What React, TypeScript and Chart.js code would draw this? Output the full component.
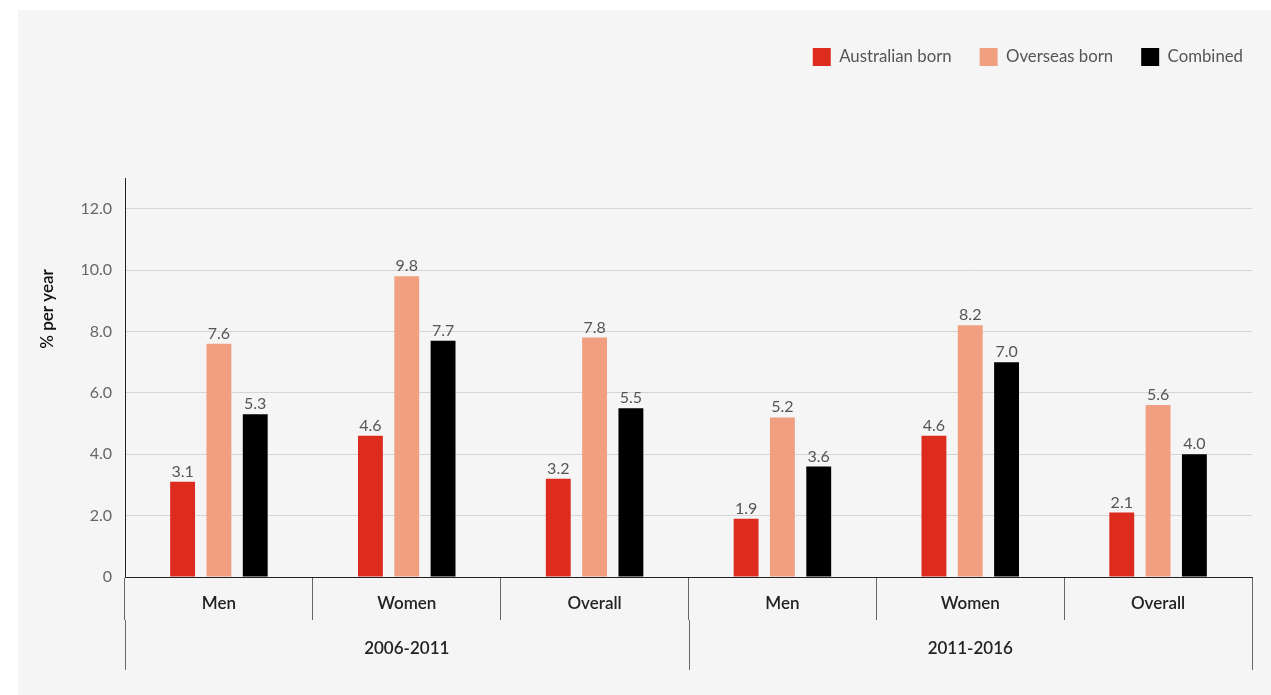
import React, { useEffect, useRef } from 'react';
import { Chart, registerables } from 'chart.js';

Chart.register(...registerables);

// Annual rate, % per year, by sex and birthplace for two census periods
const categories = ['Men', 'Women', 'Overall', 'Men', 'Women', 'Overall'];
const periods = ['2006-2011', '2011-2016'];
const australianBorn = [3.1, 4.6, 3.2, 1.9, 4.6, 2.1];
const overseasBorn = [7.6, 9.8, 7.8, 5.2, 8.2, 5.6];
const combined = [5.3, 7.7, 5.5, 3.6, 7.0, 4.0];
const seriesNames = ['Australian born', 'Overseas born', 'Combined'];
const yAxisTitle = '% per year';

const FONT = 'Lato, "Noto Sans", sans-serif';
const COLORS = ['#DD2B1E', '#F0A081', '#000000'];

// Extra room under the legend before the plot starts; the legend row
// also runs to the canvas edge rather than stopping at the plot's right padding
const legendSpacer = {
  id: 'legendSpacer',
  beforeInit(chart: any) {
    const legend = chart.legend;
    if (!legend) return;
    const fit = legend.fit;
    legend.fit = function () {
      fit.call(this);
      this.height = 158;
    };
  },
  afterLayout(chart: any) {
    if (chart.legend) chart.legend.right = chart.width;
  },
};

// Value labels above each bar
const valueLabels = {
  id: 'valueLabels',
  afterDatasetsDraw(chart: any) {
    const { ctx } = chart;
    ctx.save();
    ctx.font = `16px ${FONT}`;
    ctx.fillStyle = '#555555';
    ctx.textAlign = 'center';
    ctx.textBaseline = 'alphabetic';
    chart.data.datasets.forEach((ds: any, di: number) => {
      const meta = chart.getDatasetMeta(di);
      meta.data.forEach((bar: any, i: number) => {
        const v = ds.data[i] as number;
        ctx.fillText(v.toFixed(1), bar.x, bar.y - 5);
      });
    });
    ctx.restore();
  },
};

// Rotated y-axis title and the period row under the category labels
const axisDecor = {
  id: 'axisDecor',
  afterDraw(chart: any) {
    const { ctx, chartArea } = chart;
    const x = chart.scales.x;
    ctx.save();

    // y title
    ctx.translate(30, chartArea.top + 131);
    ctx.rotate(-Math.PI / 2);
    ctx.font = `600 17px ${FONT}`;
    ctx.fillStyle = '#111111';
    ctx.textAlign = 'center';
    ctx.textBaseline = 'middle';
    ctx.fillText(yAxisTitle, 0, 0);
    ctx.setTransform(1, 0, 0, 1, 0, 0);

    // period dividers and labels
    const perGroup = categories.length / periods.length;
    const edge = (k: number) => {
      if (k <= 0) return x.left;
      if (k >= categories.length) return x.right;
      return (x.getPixelForTick(k - 1) + x.getPixelForTick(k)) / 2;
    };
    const y0 = chartArea.bottom + 43;
    const y1 = chartArea.bottom + 93;
    ctx.strokeStyle = '#666666';
    ctx.lineWidth = 1;
    for (let g = 0; g <= periods.length; g++) {
      const px = Math.round(edge(g * perGroup)) + 0.5;
      ctx.beginPath();
      ctx.moveTo(px, y0);
      ctx.lineTo(px, y1);
      ctx.stroke();
    }
    ctx.font = `600 17px ${FONT}`;
    ctx.fillStyle = '#222222';
    ctx.textAlign = 'center';
    ctx.textBaseline = 'middle';
    periods.forEach((p, g) => {
      const cx = (edge(g * perGroup) + edge((g + 1) * perGroup)) / 2;
      ctx.fillText(p, cx, chartArea.bottom + 72);
    });
    ctx.restore();
  },
};

export default function App() {
  const ref = useRef<HTMLCanvasElement | null>(null);

  useEffect(() => {
    if (!ref.current) return;
    const series = [australianBorn, overseasBorn, combined];
    const chart = new Chart(ref.current, {
      type: 'bar',
      data: {
        labels: categories,
        datasets: series.map((data, i) => ({
          label: seriesNames[i],
          data,
          backgroundColor: COLORS[i],
          borderWidth: 0,
          categoryPercentage: 0.58,
          barPercentage: 0.685,
        })),
      },
      options: {
        responsive: true,
        maintainAspectRatio: false,
        animation: false,
        layout: { padding: { top: 10, right: 19, bottom: 25, left: 0 } },
        plugins: {
          tooltip: { enabled: false },
          legend: {
            position: 'top',
            align: 'end',
            labels: {
              boxWidth: 18,
              boxHeight: 18,
              padding: 28,
              color: '#555555',
              font: { family: FONT, size: 16.8 },
            },
          },
        },
        scales: {
          x: {
            offset: true,
            grid: {
              offset: true,
              drawOnChartArea: false,
              drawTicks: true,
              tickLength: 43,
              color: '#666666',
            },
            border: { color: '#222222', width: 1 },
            ticks: {
              padding: -27,
              color: '#222222',
              font: { family: FONT, size: 17, weight: 600 },
              maxRotation: 0,
              autoSkip: false,
            },
            afterFit(scale: any) {
              scale.height = 93;
            },
          },
          y: {
            min: 0,
            max: 13,
            grid: { color: '#D6D6D6', drawTicks: false },
            border: { color: '#222222', width: 1 },
            ticks: {
              stepSize: 2,
              includeBounds: false,
              padding: 13,
              color: '#666666',
              font: { family: FONT, size: 16 },
              callback: (v: any) => (Number(v) === 0 ? '0' : Number(v).toFixed(1)),
            },
            afterFit(scale: any) {
              scale.width = 107;
            },
          },
        },
      },
      plugins: [legendSpacer, valueLabels, axisDecor],
    } as any);
    return () => chart.destroy();
  }, []);

  return (
    <div
      style={{
        position: 'absolute',
        left: 18,
        top: 10,
        width: 1253,
        height: 685,
        background: '#F5F5F5',
      }}
    >
      <canvas ref={ref} style={{ display: 'block' }} />
    </div>
  );
}
